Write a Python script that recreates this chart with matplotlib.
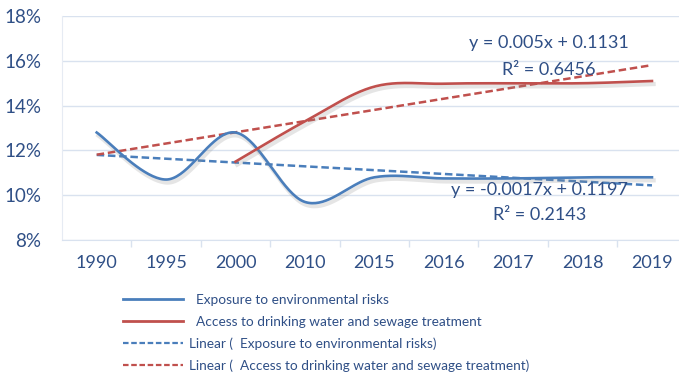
import numpy as np
import matplotlib
matplotlib.use("Agg")
import matplotlib.pyplot as plt
import matplotlib.patheffects as pe
from matplotlib.lines import Line2D
from matplotlib.ticker import PercentFormatter, FixedLocator

plt.rcParams['font.family'] = ['Lato', 'DejaVu Sans']

# data
years = ["1990", "1995", "2000", "2010", "2015", "2016", "2017", "2018", "2019"]
exposure = [0.128, 0.107, 0.128, 0.097, 0.108, 0.1075, 0.1075, 0.108, 0.108]
access = [None, None, 0.115, 0.133, 0.1485, 0.1498, 0.150, 0.150, 0.151]
exp_slope, exp_icpt, exp_r2 = -0.0017, 0.1197, 0.2143
acc_slope, acc_icpt, acc_r2 = 0.005, 0.1131, 0.6456

TEXT = "#2f4f86"
BLUE = "#4a7ebb"
RED = "#c0504d"
GRID = "#d9e2ef"


def smooth(xs, ys, n=40):
    """Bezier smoothing through the points (spreadsheet style)."""
    xs = np.asarray(xs, float)
    ys = np.asarray(ys, float)
    px = np.concatenate([[xs[0]], xs, [xs[-1]]])
    py = np.concatenate([[ys[0]], ys, [ys[-1]]])
    out_x, out_y = [], []
    t = np.linspace(0, 1, n)
    for i in range(1, len(px) - 2):
        p0 = np.array([px[i], py[i]])
        p3 = np.array([px[i + 1], py[i + 1]])
        p1 = p0 + (np.array([px[i + 1], py[i + 1]]) - np.array([px[i - 1], py[i - 1]])) / 6
        p2 = p3 - (np.array([px[i + 2], py[i + 2]]) - np.array([px[i], py[i]])) / 6
        b = ((1 - t) ** 3)[:, None] * p0 + (3 * (1 - t) ** 2 * t)[:, None] * p1 \
            + (3 * (1 - t) * t ** 2)[:, None] * p2 + (t ** 3)[:, None] * p3
        out_x.extend(b[:, 0])
        out_y.extend(b[:, 1])
    return np.array(out_x), np.array(out_y)


fig = plt.figure(figsize=(6.79, 3.72), dpi=100)
ax = fig.add_axes([0.0913, 0.3548, 0.920, 0.602])

idx = np.arange(len(years))
shadow = [pe.SimpleLineShadow(offset=(1.2, -2.2), shadow_color='0.55', alpha=0.22, linewidth=3),
          pe.Normal()]

# trendlines from the fitted equations (x = 1..n)
trend_x = idx + 1
ax.plot(idx, exp_slope * trend_x + exp_icpt, color=BLUE, lw=1.8, dashes=(3, 1.5), zorder=3)
ax.plot(idx, acc_slope * trend_x + acc_icpt, color=RED, lw=1.8, dashes=(3, 1.5), zorder=3)

sx, sy = smooth(idx, exposure)
ax.plot(sx, sy, color=BLUE, lw=1.9, path_effects=shadow, zorder=4)
acc_idx = [i for i, v in enumerate(access) if v is not None]
sx, sy = smooth(acc_idx, [access[i] for i in acc_idx])
ax.plot(sx, sy, color=RED, lw=1.9, path_effects=shadow, zorder=4)

ax.text(6.51, 0.168, f"y = {acc_slope}x + {acc_icpt}", color=TEXT, fontsize=13,
        ha='center', va='center', zorder=5)
ax.text(6.51, 0.1559, f"R² = {acc_r2}", color=TEXT, fontsize=13,
        ha='center', va='center', zorder=5)
ax.text(6.38, 0.1023, f"y = {exp_slope}x + {exp_icpt}", color=TEXT, fontsize=13,
        ha='center', va='center', zorder=5)
ax.text(6.38, 0.0912, f"R² = {exp_r2}", color=TEXT, fontsize=13,
        ha='center', va='center', zorder=5)

ax.set_xlim(-0.5, len(years) - 0.5)
ax.set_ylim(0.08, 0.18)
ax.set_yticks(np.arange(0.08, 0.181, 0.02))
ax.yaxis.set_major_formatter(PercentFormatter(1.0, decimals=0))
ax.set_xticks(idx)
ax.set_xticklabels(years)
ax.xaxis.set_minor_locator(FixedLocator(np.arange(0.5, len(years) - 1, 1.0)))
ax.tick_params(axis='x', which='major', length=0, pad=11, labelsize=13, labelcolor=TEXT)
ax.tick_params(axis='x', which='minor', length=5, width=1, color=GRID, direction='out')
ax.tick_params(axis='y', length=0, pad=15, labelsize=13.5, labelcolor=TEXT)
ax.grid(axis='y', color=GRID, lw=1)
for side in ['top', 'right']:
    ax.spines[side].set_visible(False)
ax.spines['left'].set_color('#e6ebf3')
ax.spines['bottom'].set_color(GRID)

handles = [
    Line2D([], [], color=BLUE, lw=2),
    Line2D([], [], color=RED, lw=2),
    Line2D([], [], color=BLUE, lw=1.6, dashes=(2.5, 1.2)),
    Line2D([], [], color=RED, lw=1.6, dashes=(2.5, 1.2)),
]
labels = [
    "  Exposure to environmental risks",
    "  Access to drinking water and sewage treatment",
    "Linear (  Exposure to environmental risks)",
    "Linear (  Access to drinking water and sewage treatment)",
]
leg = fig.legend(handles, labels, loc='upper left', bbox_to_anchor=(123 / 679, 1 - 294 / 372),
                 frameon=False, fontsize=9.8, handlelength=4.4, handletextpad=0.45,
                 labelspacing=0.7, borderpad=0, borderaxespad=0)
for t in leg.get_texts():
    t.set_color(TEXT)

fig.savefig("out.png", dpi=100)
